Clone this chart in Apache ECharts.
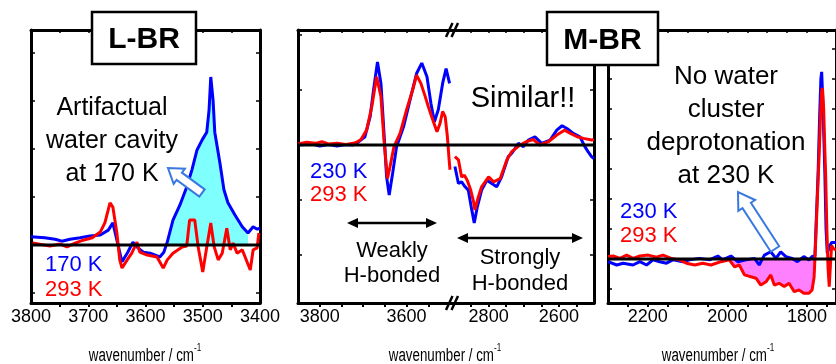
<!DOCTYPE html>
<html><head><meta charset="utf-8">
<script src="https://cdn.jsdelivr.net/npm/echarts@6/dist/echarts.min.js"></script>
<style>html,body{margin:0;padding:0;background:#fff}#c{width:836px;height:364px}</style>
</head><body><div id="c"></div>
<script>
// ---------------- DATA (wavenumber / cm-1, difference absorbance in tick units) ----------------
// L-BR panel, 3800-3400 cm-1
const L_BR_170K = [[3800,0.17],[3776,0.15],[3758,0.12],[3746,0.08],[3732,0.12],[3714,0.15],[3697,0.19],[3679,0.21],[3665,0.31],[3657,0.46],[3650,0.1],[3641,-0.35],[3631,-0.15],[3622,0.06],[3613,-0.06],[3604,-0.15],[3592,-0.17],[3575,-0.25],[3568,-0.15],[3562,0.06],[3552,0.52],[3540,0.83],[3528,1.21],[3519,1.56],[3510,1.98],[3501,2.19],[3493,2.35],[3489,2.81],[3486,3.5],[3482,3.02],[3479,2.35],[3470,1.71],[3463,1.15],[3456,0.88],[3444,0.63],[3431,0.38],[3421,0.25],[3412,0.38],[3405,0.33],[3400,0.35]];
const L_BR_293K = [[3797,0.04],[3767,-0.02],[3749,0.02],[3737,-0.04],[3723,0.04],[3709,0.1],[3693,0.15],[3679,0.27],[3671,0.46],[3662,0.88],[3657,0.79],[3650,0.25],[3645,-0.31],[3641,-0.48],[3632,-0.31],[3624,-0.17],[3615,0.06],[3610,-0.15],[3597,-0.21],[3580,-0.25],[3569,-0.48],[3562,-0.31],[3552,-0.17],[3536,-0.04],[3528,-0.02],[3523,0.52],[3514,0.52],[3508,-0.04],[3500,-0.56],[3493,-0.04],[3486,0.46],[3480,-0.04],[3473,-0.31],[3466,-0.17],[3458,0.35],[3452,-0.1],[3447,0.04],[3440,-0.17],[3431,-0.1],[3426,-0.25],[3417,-0.52],[3412,-0.1],[3405,-0.06],[3402,0.25]];
const L_BR_FILL_RANGE = [3420, 3563];
// M-BR panel, high-frequency part 3850-3500 cm-1
const M_BR_HI_230K = [[3850,0],[3820,0.02],[3800,-0.02],[3780,0.01],[3760,-0.02],[3740,0.01],[3723,0],[3715,0.03],[3696,0.15],[3684,0.51],[3676,1.0],[3667,1.51],[3659,1.12],[3652,0.22],[3646,-0.58],[3640,-0.91],[3632,-0.51],[3623,-0.03],[3607,0.33],[3592,0.82],[3577,1.3],[3565,1.49],[3553,1.24],[3544,0.76],[3536,0.42],[3527,0.64],[3517,1.12],[3509,1.39],[3501,1.12]];
const M_BR_HI_293K = [[3850,0.02],[3830,0.05],[3810,0.03],[3795,0.06],[3780,0.02],[3760,0.03],[3740,0.01],[3723,0.03],[3715,0.05],[3705,0.1],[3692,0.27],[3680,0.7],[3669,1.24],[3659,0.88],[3652,0.09],[3644,-0.61],[3638,-0.39],[3629,-0.03],[3615,0.21],[3600,0.64],[3586,1.0],[3577,1.27],[3567,1.12],[3557,0.88],[3550,0.7],[3542,0.51],[3530,0.24],[3523,0.39],[3517,0.61],[3511,0.51],[3506,0.15],[3502,-0.27],[3500,-0.45]];
// M-BR panel, middle part 2910-2500 cm-1
const M_BR_MID_230K = [[2896,-0.39],[2886,-0.7],[2877,-0.67],[2867,-0.76],[2858,-0.82],[2848,-1.18],[2841,-1.42],[2832,-1.12],[2820,-0.82],[2805,-0.64],[2791,-0.7],[2777,-0.76],[2763,-0.58],[2744,-0.21],[2734,-0.15],[2715,0.03],[2701,-0.03],[2687,0.09],[2668,0.15],[2649,0.03],[2625,0.09],[2606,0.27],[2591,0.35],[2577,0.3],[2559,0.21],[2540,0.15],[2526,-0.03],[2517,-0.12],[2507,-0.21],[2500,-0.25]];
const M_BR_MID_293K = [[2896,-0.21],[2886,-0.27],[2877,-0.58],[2869,-0.55],[2861,-0.64],[2851,-0.82],[2843,-1.03],[2839,-1.18],[2829,-0.94],[2820,-0.76],[2800,-0.58],[2786,-0.67],[2767,-0.61],[2748,-0.27],[2734,-0.12],[2711,0],[2692,0.06],[2673,0.1],[2654,0],[2630,0.06],[2606,0.18],[2584,0.27],[2567,0.21],[2548,0.15],[2530,0.12],[2507,0.09],[2500,0.1]];
// M-BR panel, low-frequency part 2300-1727 cm-1
const M_BR_LO_230K = [[2300,-0.09],[2278,-0.2],[2262,-0.14],[2237,-0.2],[2220,-0.09],[2203,-0.2],[2187,-0.03],[2170,-0.09],[2153,-0.14],[2137,-0.03],[2112,-0.09],[2095,-0.03],[2070,0.02],[2045,-0.03],[2024,0.1],[2012,-0.03],[1991,0.1],[1974,-0.09],[1953,-0.03],[1932,0.02],[1920,-0.2],[1907,0.13],[1891,0.24],[1878,0.02],[1866,0.24],[1853,0.08],[1837,0.02],[1824,-0.09],[1808,0.08],[1795,-0.03],[1787,0.08],[1780,0.1],[1776,1.5],[1772,2.87],[1768,4.8],[1765,6.0],[1763,6.24],[1760,5.2],[1757,3.8],[1755,2.87],[1752,1.0],[1749,0.2],[1746,0.2],[1742,0.45],[1738,0.55],[1733,0.6],[1727,0.55]];
const M_BR_LO_293K = [[2300,0.08],[2287,0.1],[2270,0.02],[2253,0.13],[2237,0.02],[2220,0.1],[2199,0.13],[2178,0.06],[2162,0.13],[2141,0.02],[2120,-0.03],[2103,-0.14],[2082,-0.2],[2062,-0.14],[2041,-0.2],[2016,-0.09],[1995,-0.03],[1982,-0.26],[1970,-0.2],[1957,-0.53],[1941,-0.59],[1928,-0.64],[1916,-0.87],[1903,-0.76],[1891,-0.53],[1882,-0.87],[1870,-0.81],[1857,-0.92],[1845,-0.81],[1832,-1.09],[1820,-1.03],[1808,-1.14],[1795,-1.14],[1787,-1.03],[1782,-0.6],[1778,0.63],[1773,2.3],[1769,3.6],[1766,4.8],[1763,5.6],[1761,5.7],[1758,5.0],[1755,3.6],[1753,2.8],[1750,1.0],[1747,-0.3],[1744,-0.92],[1741,-0.2],[1738,0.45],[1734,0.35],[1727,0.3]];
const M_BR_LO_FILL_RANGE = [1782, 1995];

// Tick labels / ticks
const L_BR_LABELS = [3800,3700,3600,3500,3400];
const L_BR_TICKS = [3750,3700,3650,3600,3550,3500,3450];
const M_BR_HI_LABELS = [3800,3600];
const M_BR_HI_TICKS = [3800,3750,3700,3650,3600,3550];
const M_BR_MID_LABELS = [2800,2600];
const M_BR_MID_TICKS = [2850,2800,2750,2700,2650,2600,2550];
const M_BR_LO_LABELS = [2200,2000,1800];
const M_BR_LO_TICKS = [2250,2200,2150,2100,2050,2000,1950,1900,1850,1800,1750];

// ---------------- CHART ----------------
const SANS = '"Liberation Sans",Arial,Helvetica,sans-serif';
const BLUE = '#0000ff', RED = '#ff0000';

const gridBoxes = [
  {left:31, top:30, width:229, height:273},
  {left:298, top:30, width:152, height:273},
  {left:450, top:30, width:144, height:273},
  {left:608, top:30, width:228, height:273}
];
const xRanges = [[3400,3800],[3500,3850],[2500,2910],[1727,2300]];
const yRanges = [[-1.208,4.479],[-2.873,2.091],[-2.873,2.091],[-1.467,7.633]];
const xLabels = [L_BR_LABELS, M_BR_HI_LABELS, M_BR_MID_LABELS, M_BR_LO_LABELS];
const xTicks = [L_BR_TICKS, M_BR_HI_TICKS, M_BR_MID_TICKS, M_BR_LO_TICKS];
const yTicks = [[-1,0,1,2,3,4],[-2,-1,0,1,2],[-2,-1,0,1,2],[-1,0,1,2,3,4,5,6,7]];
const showLeft = [true,true,false,true], showRight = [true,false,true,true];

const axLine = {show:true, onZero:false, lineStyle:{color:'#000', width:3}};
const grid = [], xAxis = [], yAxis = [];
gridBoxes.forEach((g,i) => {
  grid.push(Object.assign({outerBoundsMode:'none', containLabel:false}, g));
  xAxis.push({type:'value', gridIndex:i, min:xRanges[i][0], max:xRanges[i][1], inverse:true, position:'bottom',
    axisLine:axLine,
    axisTick:{show:true, inside:false, length:4, lineStyle:{color:'#000', width:2}, customValues:xTicks[i]},
    axisLabel:{show:true, customValues:xLabels[i], formatter:v => String(v), fontSize:18, fontFamily:SANS, color:'#000', margin:5},
    splitLine:{show:false}, minorTick:{show:false}});
  xAxis.push({type:'value', gridIndex:i, min:xRanges[i][0], max:xRanges[i][1], inverse:true, position:'top',
    axisLine:axLine,
    axisTick:{show:true, inside:true, length:3, lineStyle:{color:'#000', width:1.5}, customValues:xTicks[i]},
    axisLabel:{show:false}, splitLine:{show:false}});
  yAxis.push({type:'value', gridIndex:i, min:yRanges[i][0], max:yRanges[i][1], position:'left',
    axisLine:Object.assign({}, axLine, {show:showLeft[i]}),
    axisTick:{show:showLeft[i], inside:true, length:4, lineStyle:{color:'#000', width:1.5}, customValues:yTicks[i]},
    axisLabel:{show:false}, splitLine:{show:false}});
  yAxis.push({type:'value', gridIndex:i, min:yRanges[i][0], max:yRanges[i][1], position:'right',
    axisLine:Object.assign({}, axLine, {show:showRight[i]}),
    axisTick:{show:showRight[i], inside:true, length:4, lineStyle:{color:'#000', width:1.5}, customValues:yTicks[i]},
    axisLabel:{show:false}, splitLine:{show:false}});
});

function lineSeries(gi, data, color, z){
  return {type:'line', xAxisIndex:2*gi, yAxisIndex:2*gi, data:data, showSymbol:false, symbol:'none',
    lineStyle:{color:color, width:3}, itemStyle:{color:color}, z:z, silent:true, animation:false};
}
function fillSeries(gi, data, range, color){
  return {type:'line', xAxisIndex:2*gi, yAxisIndex:2*gi,
    data:data.filter(p => p[0] >= range[0] && p[0] <= range[1]),
    showSymbol:false, symbol:'none', lineStyle:{width:0, opacity:0},
    areaStyle:{color:color, opacity:1, origin:'auto'}, z:1, silent:true, animation:false};
}
function zeroLine(gi){
  return {type:'line', xAxisIndex:2*gi, yAxisIndex:2*gi, data:[[xRanges[gi][0],0],[xRanges[gi][1],0]],
    showSymbol:false, symbol:'none', lineStyle:{color:'#000', width:3}, z:5, silent:true, animation:false};
}

const series = [
  fillSeries(0, L_BR_170K, L_BR_FILL_RANGE, '#80ffff'),
  lineSeries(0, L_BR_170K, BLUE, 2), lineSeries(0, L_BR_293K, RED, 3), zeroLine(0),
  lineSeries(1, M_BR_HI_230K, BLUE, 2), lineSeries(1, M_BR_HI_293K, RED, 3), zeroLine(1),
  lineSeries(2, M_BR_MID_230K, BLUE, 2), lineSeries(2, M_BR_MID_293K, RED, 3), zeroLine(2),
  fillSeries(3, M_BR_LO_293K, M_BR_LO_FILL_RANGE, '#ff80ff'),
  lineSeries(3, M_BR_LO_230K, BLUE, 2), lineSeries(3, M_BR_LO_293K, RED, 3), zeroLine(3)
];

// ---------------- ANNOTATIONS ----------------
function txt(x, y, text, size, color, extra){
  return {type:'text', x:x, y:y, z:60, style:Object.assign({text:text, fill:color||'#000', fontSize:size,
    fontFamily:SANS, align:'center', verticalAlign:'middle'}, extra||{})};
}
function hollowArrow(tip, tail, sw, hw, hl, color){
  const dx = tip[0]-tail[0], dy = tip[1]-tail[1], L = Math.hypot(dx,dy);
  const ux = dx/L, uy = dy/L, nx = -uy, ny = ux;
  const bx = tip[0]-ux*hl, by = tip[1]-uy*hl;
  const pts = [[tail[0]+nx*sw, tail[1]+ny*sw],[bx+nx*sw, by+ny*sw],[bx+nx*hw, by+ny*hw],tip,
               [bx-nx*hw, by-ny*hw],[bx-nx*sw, by-ny*sw],[tail[0]-nx*sw, tail[1]-ny*sw]];
  return {type:'polygon', z:55, shape:{points:pts}, style:{fill:'#fff', stroke:color, lineWidth:2}};
}
function dblArrow(x1, x2, y){
  return [
    {type:'line', z:55, shape:{x1:x1+6, y1:y, x2:x2-6, y2:y}, style:{stroke:'#000', lineWidth:2.5}},
    {type:'polygon', z:55, shape:{points:[[x1,y],[x1+11,y-5],[x1+11,y+5]]}, style:{fill:'#000'}},
    {type:'polygon', z:55, shape:{points:[[x2,y],[x2-11,y-5],[x2-11,y+5]]}, style:{fill:'#000'}}
  ];
}
function breakMark(x, y){
  return [
    {type:'line', z:70, shape:{x1:x-6, y1:y+7, x2:x+0.5, y2:y-7}, style:{stroke:'#000', lineWidth:2.5}},
    {type:'line', z:70, shape:{x1:x-0.5, y1:y+7, x2:x+6, y2:y-7}, style:{stroke:'#000', lineWidth:2.5}}
  ];
}
function axisTitle(cx){
  return {type:'text', x:cx, y:356, z:60, scaleX:0.74, style:{text:'{a|wavenumber / cm}{b|-1}', align:'center', verticalAlign:'middle',
    rich:{a:{fontSize:18, fontFamily:SANS, fill:'#000', lineHeight:28},
          b:{fontSize:11, fontFamily:SANS, fill:'#000', verticalAlign:'top', lineHeight:12}}}};
}
function titleBox(x, y, w, h, label){
  return [
    {type:'rect', z:80, shape:{x:x, y:y, width:w, height:h}, style:{fill:'#fff', stroke:'#000', lineWidth:2.5}},
    {type:'text', z:81, x:x+w/2, y:y+h/2+2, style:{text:label, fontSize:30, fontWeight:'bold', fontFamily:SANS,
      fill:'#000', align:'center', verticalAlign:'middle'}}
  ];
}

const graphic = [].concat(
  titleBox(92, 12, 104, 52, 'L-BR'),
  titleBox(547, 12, 111, 53, 'M-BR'),
  breakMark(452, 30), breakMark(452, 303),
  [txt(112, 141, 'Artifactual\nwater cavity\nat 170 K', 25, '#000', {lineHeight:33})],
  [txt(45, 265, '170 K', 22, BLUE, {align:'left'}), txt(45, 290, '293 K', 22, RED, {align:'left'})],
  [hollowArrow([168,168], [202,193], 4.5, 9.5, 14, '#3a78e0')],
  [txt(523, 99, 'Similar!!', 29)],
  [txt(310, 172, '230 K', 22, BLUE, {align:'left'}), txt(310, 195, '293 K', 22, RED, {align:'left'})],
  dblArrow(347, 437, 223), dblArrow(457, 583, 238),
  [txt(392, 251, 'Weakly', 22), txt(392, 276, 'H-bonded', 22)],
  [txt(520, 258, 'Strongly', 22), txt(520, 284, 'H-bonded', 22)],
  [txt(726, 126, 'No water\ncluster\ndeprotonation\nat 230 K', 26, '#000', {lineHeight:33})],
  [txt(620, 212, '230 K', 22, BLUE, {align:'left'}), txt(620, 236, '293 K', 22, RED, {align:'left'})],
  [hollowArrow([738,192], [775,249], 5, 10, 16, '#3a78e0')],
  [axisTitle(145), axisTitle(445), axisTitle(718)]
);

const chart = echarts.init(document.getElementById('c'), null, {renderer:'canvas'});
chart.setOption({animation:false, backgroundColor:'#fff', grid:grid, xAxis:xAxis, yAxis:yAxis, series:series, graphic:graphic});
</script></body></html>
